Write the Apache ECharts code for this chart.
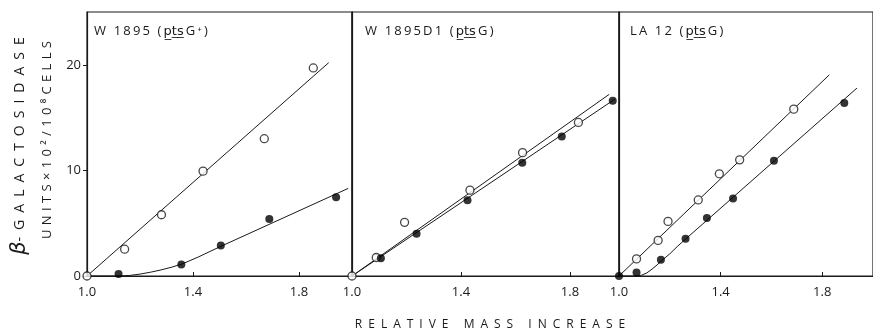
<!DOCTYPE html>
<html><head><meta charset="utf-8">
<script src="https://cdn.jsdelivr.net/npm/echarts@6/dist/echarts.min.js"></script>
<style>html,body{margin:0;background:#fff}#c{width:873px;height:332px}</style>
</head><body><div id="c"></div>
<script>
// ---- data ----
const xTicks = [1.0, 1.4, 1.8];
const yTicks = [0, 10, 20];
const panelTitles = ['W 1895 (p\u0332t\u0332s\u0332G\u207A)', 'W 1895D1 (p\u0332t\u0332s\u0332G)', 'LA 12 (p\u0332t\u0332s\u0332G)'];
const yTitleBeta = 'β';
const yTitle1 = '-GALACTOSIDASE';
const yTitle2 = 'UNITS×10²/10⁸CELLS';
const xTitle = 'RELATIVE MASS INCREASE';

// W 1895 (ptsG+)
const p1Open = [[1.0, 0], [1.142, 2.54], [1.281, 5.8], [1.438, 9.93], [1.669, 13.0], [1.854, 19.7]];
const p1Filled = [[1.119, 0.2], [1.356, 1.1], [1.505, 2.9], [1.688, 5.4], [1.94, 7.46]];
const p1OpenFit = [[1.0, 0], [1.912, 20.2]];
const p1FilledFit = [[1.0, 0], [1.12, 0], [1.16, 0.05], [1.2, 0.18], [1.24, 0.36], [1.28, 0.58], [1.32, 0.84], [1.36, 1.15], [1.42, 1.8], [1.5, 2.75], [1.986, 8.3]];

// W 1895D1 (ptsG)
const p2Open = [[1.0, 0], [1.089, 1.75], [1.193, 5.08], [1.433, 8.13], [1.626, 11.68], [1.831, 14.54]];
const p2Filled = [[1.106, 1.68], [1.237, 4.0], [1.424, 7.17], [1.625, 10.73], [1.77, 13.2], [1.957, 16.6]];
const p2OpenFit = [[1.0, 0], [1.944, 17.2]];
const p2FilledFit = [[1.0, 0], [1.965, 16.75]];

// LA 12 (ptsG)
const p3Open = [[1.069, 1.62], [1.154, 3.37], [1.193, 5.17], [1.312, 7.2], [1.395, 9.68], [1.475, 11.0], [1.688, 15.8]];
const p3Filled = [[1.0, 0], [1.069, 0.32], [1.165, 1.55], [1.262, 3.52], [1.346, 5.49], [1.449, 7.33], [1.61, 10.92], [1.887, 16.38]];
const p3OpenFit = [[1.0, 0], [1.828, 19.05]];
const p3FilledFit = [[1.0, 0], [1.07, 0], [1.09, 0.08], [1.11, 0.3], [1.13, 0.65], [1.15, 1.05], [1.17, 1.5], [1.2, 2.1], [1.23, 2.8], [1.26, 3.45], [1.937, 17.8]];

const panels = [
  {open: p1Open, filled: p1Filled, openFit: p1OpenFit, filledFit: p1FilledFit},
  {open: p2Open, filled: p2Filled, openFit: p2OpenFit, filledFit: p2FilledFit},
  {open: p3Open, filled: p3Filled, openFit: p3OpenFit, filledFit: p3FilledFit}
];

// ---- layout ----
const gridBoxes = [
  {left: 87, width: 265, xmax: 2.0},
  {left: 352, width: 267, xmax: 1.98},
  {left: 619, width: 266, xmax: 2.0}
];
const FONT = '"Open Sans", "DejaVu Sans", sans-serif';
const INK = '#1a1a1a';

function spaced(s, gap) {
  const ch = [...s];
  let out = '';
  ch.forEach((c, i) => {
    out += c;
    const n = ch[i + 1];
    if (n === undefined) return;
    if (n === '\u0332') return;
    if (c === '\u0332' && ch[i + 2] === '\u0332') return;
    out += gap;
  });
  return out;
}

const grids = [], xAxes = [], yAxes = [], series = [];
gridBoxes.forEach((g, i) => {
  grids.push({left: g.left, width: g.width, top: 12, height: 264, show: true,
    borderColor: INK, borderWidth: 1.2, backgroundColor: 'transparent'});
  xAxes.push({gridIndex: i, type: 'value', min: 1.0, max: g.xmax,
    axisLine: {lineStyle: {color: INK, width: 1.2}},
    axisTick: {inside: true, length: 4, customValues: xTicks, lineStyle: {color: INK}},
    axisLabel: {customValues: xTicks, formatter: v => v.toFixed(1), color: INK,
      fontFamily: FONT, fontSize: 13, margin: 10},
    splitLine: {show: false}});
  yAxes.push({gridIndex: i, type: 'value', min: 0, max: 25,
    axisLine: {show: true, lineStyle: {color: INK, width: 1.2}},
    axisTick: {show: i === 0, length: 4, customValues: yTicks, lineStyle: {color: INK}},
    axisLabel: {show: i === 0, customValues: yTicks, color: INK, fontFamily: FONT, fontSize: 13, margin: 6},
    splitLine: {show: false}});
  const p = panels[i];
  series.push({type: 'line', xAxisIndex: i, yAxisIndex: i, data: p.openFit, showSymbol: false,
    lineStyle: {color: INK, width: 1}, z: 2, silent: true});
  series.push({type: 'line', xAxisIndex: i, yAxisIndex: i, data: p.filledFit, showSymbol: false,
    smooth: false, lineStyle: {color: INK, width: 1}, z: 2, silent: true});
  series.push({type: 'scatter', xAxisIndex: i, yAxisIndex: i, data: p.open, symbol: 'circle', symbolSize: 8,
    itemStyle: {color: '#fff', borderColor: INK, borderWidth: 1.3}, z: 3});
  series.push({type: 'scatter', xAxisIndex: i, yAxisIndex: i, data: p.filled, symbol: 'circle', symbolSize: 8,
    itemStyle: {color: '#000'}, z: 4});
});

const titleX = [94, 365, 630];
const graphic = panelTitles.map((t, i) => ({
  type: 'text', x: titleX[i], y: 31,
  style: {text: spaced(t, '\u2009'), font: '13px ' + FONT, fill: INK, textAlign: 'left', textVerticalAlign: 'middle'}
}));
graphic.push({
  type: 'text', x: 20, y: 146, rotation: Math.PI / 2,
  style: {text: '{b|' + yTitleBeta + '}' + spaced(yTitle1, '\u2002'), font: '14px ' + FONT, fill: INK,
    textAlign: 'center', textVerticalAlign: 'middle',
    rich: {b: {fontSize: 21, fontStyle: 'italic', fontFamily: 'DejaVu Sans', fill: INK, color: INK}}}
});
graphic.push({
  type: 'text', x: 47, y: 140, rotation: Math.PI / 2,
  style: {text: spaced(yTitle2, '\u2004'), font: '13px ' + FONT, fill: INK, textAlign: 'center', textVerticalAlign: 'middle'}
});
graphic.push({
  type: 'text', x: 490, y: 325,
  style: {text: spaced(xTitle, '\u2002'), font: '12px ' + FONT, fill: INK, textAlign: 'center', textVerticalAlign: 'middle'}
});

const chart = echarts.init(document.getElementById('c'));
chart.setOption({
  animation: false,
  backgroundColor: '#fff',
  grid: grids, xAxis: xAxes, yAxis: yAxes, series: series, graphic: graphic
});
</script></body></html>
